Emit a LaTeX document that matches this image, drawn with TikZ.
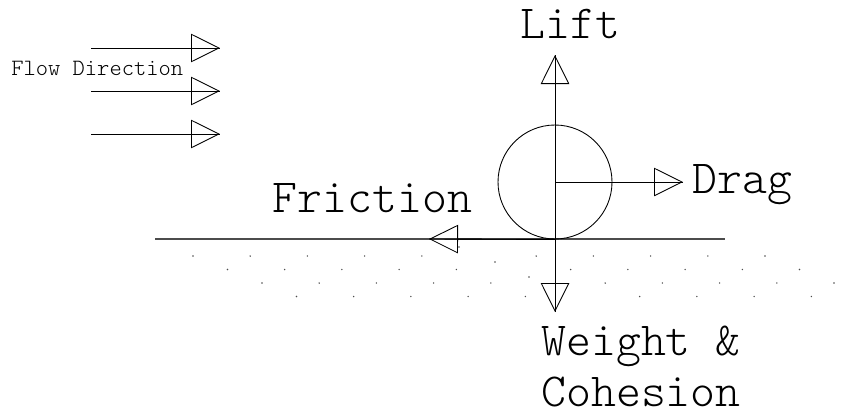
\documentclass[tikz,border=0pt]{standalone}
\usetikzlibrary{arrows.meta}
\usetikzlibrary{positioning}

\begin{document}
\begin{tikzpicture}[
    force/.style={line width=0.5pt, postaction={draw, -{Triangle[open, length=0.58cm, width=0.57cm]}}},
    grain/.style={circle, draw, line width=0.5pt, minimum size=2.28cm, inner sep=0pt},
    lbl/.style={font=\fontsize{27}{28.5}\selectfont\ttfamily\fontseries{l}\selectfont, inner sep=0pt, anchor=base west},
    dot/.style={fill=black!70}
]
\useasboundingbox (0,0) rectangle (17.3,8.36);

% --- Flow arrows and label ---
\foreach \y [count=\i] in {7.40,6.54,5.68}
{
    \coordinate (fs\i) at (1.82,\y);
    \coordinate (fe\i) at (4.40,\y);
    \draw[force] (fs\i) -- (fe\i);
}
\node[lbl, font=\fontsize{13.3}{16}\selectfont\ttfamily\fontseries{l}\selectfont] (flow) at (0.22,6.86) {Flow Direction};

% --- Ground ---
\coordinate (gl) at (3.10,3.58);
\coordinate (gr) at (14.50,3.58);
\draw[line width=1.1pt, black!70] (gl) -- (gr);

% --- Grain ---
\node[grain] (sphere) at (11.1,4.72) {};

% --- Force tips ---
\coordinate (lifttip) at (11.1,7.26);
\coordinate (weighttip) at (11.1,2.12);
\coordinate (dragtip) at (13.66,4.72);
\coordinate (frictiontip) at (8.58,3.58);

% --- Forces ---
\draw[force] (sphere.center) -- (lifttip);
\draw[force] (sphere.center) -- (weighttip);
\draw[force] (sphere.center) -- (dragtip);
\draw[force] (sphere.south) -- (frictiontip);

% --- Labels ---
\node[lbl] (lift) at (10.40,7.60) {Lift};
\node[lbl] (drag) at (13.85,4.50) {Drag};
\node[lbl] (friction) at (5.45,4.12) {Friction};
\node[lbl, align=left, text depth=0pt] (weight) at (10.82,0.24) {Weight \&\\Cohesion};

% --- Bed dots ---
\foreach \r in {0,...,3}
{
    \foreach \k in {0,1,2,3,4,6,7,8,9,10}
    {
        \fill[dot] ({3.86 + \r*0.69 + \k*1.144},{3.24 - \r*0.27}) circle (0.45pt);
    }
}
\foreach \p in {(9.18,3.42),(9.90,3.12),(10.58,2.82)}
    \fill[dot] \p circle (0.45pt);

\end{tikzpicture}
\end{document}
